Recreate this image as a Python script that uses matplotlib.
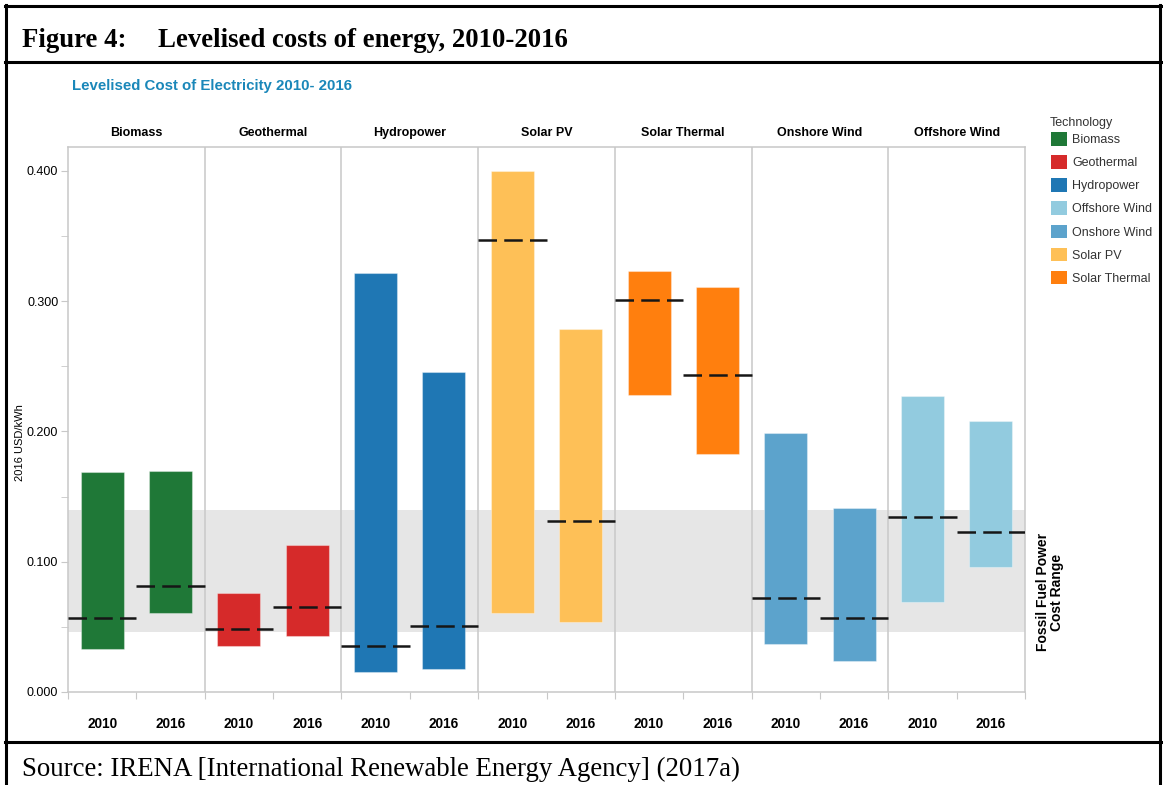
import matplotlib.pyplot as plt
from matplotlib.lines import Line2D
from matplotlib.patches import Patch
import matplotlib.transforms as mtransforms

# ── Data (2016 USD/kWh) ──────────────────────────────────────
technologies = ["Biomass", "Geothermal", "Hydropower", "Solar PV",
                "Solar Thermal", "Onshore Wind", "Offshore Wind"]
years = ["2010", "2016"]

# 5th / 95th percentile range and weighted average, per (technology, year)
low_2010 = [0.033, 0.035, 0.015, 0.061, 0.228, 0.037, 0.069]
high_2010 = [0.169, 0.076, 0.322, 0.400, 0.323, 0.199, 0.227]
avg_2010 = [0.057, 0.048, 0.035, 0.347, 0.301, 0.072, 0.134]

low_2016 = [0.061, 0.043, 0.018, 0.054, 0.183, 0.024, 0.096]
high_2016 = [0.170, 0.113, 0.246, 0.279, 0.311, 0.141, 0.208]
avg_2016 = [0.081, 0.065, 0.051, 0.131, 0.243, 0.057, 0.123]

fossil_range = (0.046, 0.140)

legend_order = ["Biomass", "Geothermal", "Hydropower", "Offshore Wind",
                "Onshore Wind", "Solar PV", "Solar Thermal"]
tech_colors = {
    "Biomass": "#1f7837",
    "Geothermal": "#d62a2a",
    "Hydropower": "#1f77b4",
    "Offshore Wind": "#92cbdf",
    "Onshore Wind": "#5ca3cc",
    "Solar PV": "#fec057",
    "Solar Thermal": "#ff7f0e",
}

# ── Figure ───────────────────────────────────────────────────
W, H = 1163, 785
fig = plt.figure(figsize=(W / 100, H / 100), dpi=100)
plt.rcParams["font.family"] = ["Liberation Sans", "DejaVu Sans"]

ax = fig.add_axes([68 / W, 1 - 692 / H, (1025 - 68) / W, (692 - 147) / H])

n = len(technologies)
ax.set_xlim(0, 2 * n)
ax.set_ylim(0, 0.4184)

# fossil fuel cost band
ax.axhspan(fossil_range[0], fossil_range[1], color="#e6e6e6", lw=0, zorder=0)

bar_w = 0.63
title_tr = mtransforms.blended_transform_factory(ax.transData, ax.transAxes) + \
    mtransforms.ScaledTranslation(0, 14 / 100, fig.dpi_scale_trans)
for i, tech in enumerate(technologies):
    col = tech_colors[tech]
    for j, (lo, hi, avg) in enumerate([(low_2010[i], high_2010[i], avg_2010[i]),
                                       (low_2016[i], high_2016[i], avg_2016[i])]):
        x0 = 2 * i + j
        ax.bar(x0 + 0.5, hi - lo, bottom=lo, width=bar_w, color=col,
               edgecolor=(1, 1, 1, 0.35), linewidth=0.8, zorder=2)
        ax.plot([x0, x0 + 1], [avg, avg], color="#161616", lw=1.8,
                dashes=(7.4, 2.9), dash_capstyle="butt", zorder=3)
    # panel separators
    if i > 0:
        ax.axvline(2 * i, color="#c8c8c8", lw=1.1, zorder=1)
    ax.text(2 * i + 1, 1.0, tech, transform=title_tr, ha="center",
            va="center", fontsize=9, fontweight="bold")

for s in ["left", "bottom", "top", "right"]:
    ax.spines[s].set_color("#c8c8c8")
    ax.spines[s].set_linewidth(1.1)

# x ticks at slot boundaries, year labels in slot centres
ax.set_xticks(range(0, 2 * n + 1))
ax.set_xticklabels([])
ax.set_xticks([k + 0.5 for k in range(2 * n)], minor=True)
ax.set_xticklabels(years * n, minor=True, fontsize=9.8, fontweight="bold")
ax.tick_params(axis="x", which="major", length=5, color="#c8c8c8")
ax.tick_params(axis="x", which="minor", length=0, pad=18)

ax.set_yticks([0, 0.1, 0.2, 0.3, 0.4])
ax.set_yticklabels(["0.000", "0.100", "0.200", "0.300", "0.400"], fontsize=9)
ax.set_yticks([0.05, 0.15, 0.25, 0.35], minor=True)
ax.tick_params(axis="y", which="both", length=5, color="#c8c8c8", pad=2)
ax.set_ylabel("2016 USD/kWh", fontsize=8)
ax.yaxis.set_label_coords(-0.045, 0.457)

# fossil range label
fig.text(1050 / W, 1 - 592 / H, "Fossil Fuel Power\nCost Range", rotation=90,
         ha="center", va="center", fontsize=10, fontweight="bold",
         linespacing=0.95)

# legend (title drawn separately so the gap below it matches)
fig.text(1050 / W, 1 - 123 / H, "Technology", fontsize=9, ha="left",
         va="center", color="#333333")
handles = [Patch(facecolor=tech_colors[t], edgecolor="none") for t in legend_order]
leg = fig.legend(handles, legend_order, loc="upper left",
                 bbox_to_anchor=(1051 / W, 1 - 132 / H), frameon=False,
                 fontsize=9, handlelength=1.25, handleheight=1.3,
                 handletextpad=0.45, labelspacing=0.73,
                 borderpad=0, borderaxespad=0)
for t in leg.get_texts():
    t.set_color("#333333")

# ── Document frame, heading and source ───────────────────────
frame_kw = dict(color="black", lw=2.2, transform=fig.transFigure)
fig.add_artist(Line2D([6 / W, 6 / W], [0, 1 - 5 / H], **frame_kw))
fig.add_artist(Line2D([1160 / W, 1160 / W], [0, 1 - 5 / H], **frame_kw))
fig.add_artist(Line2D([5 / W, 1161 / W], [1 - 6 / H, 1 - 6 / H], **frame_kw))
fig.add_artist(Line2D([5 / W, 1161 / W], [1 - 62 / H, 1 - 62 / H], **frame_kw))
fig.add_artist(Line2D([5 / W, 1161 / W], [1 - 742 / H, 1 - 742 / H], **frame_kw))

serif = ["Liberation Serif", "DejaVu Serif"]
fig.text(22 / W, 1 - 47 / H, "Figure 4:", family=serif, fontsize=19.3,
         fontweight="bold", ha="left", va="baseline")
fig.text(158 / W, 1 - 47 / H, "Levelised costs of energy, 2010-2016",
         family=serif, fontsize=19.3, fontweight="bold", ha="left", va="baseline")
fig.text(72 / W, 1 - 86 / H, "Levelised Cost of Electricity 2010- 2016",
         color="#1a87b9", fontsize=10.8, fontweight="bold", ha="left",
         va="center")
fig.text(22 / W, 1 - 776 / H,
         "Source: IRENA [International Renewable Energy Agency] (2017a)",
         family=serif, fontsize=19.4, ha="left", va="baseline")

fig.savefig("out.png", dpi=100)
